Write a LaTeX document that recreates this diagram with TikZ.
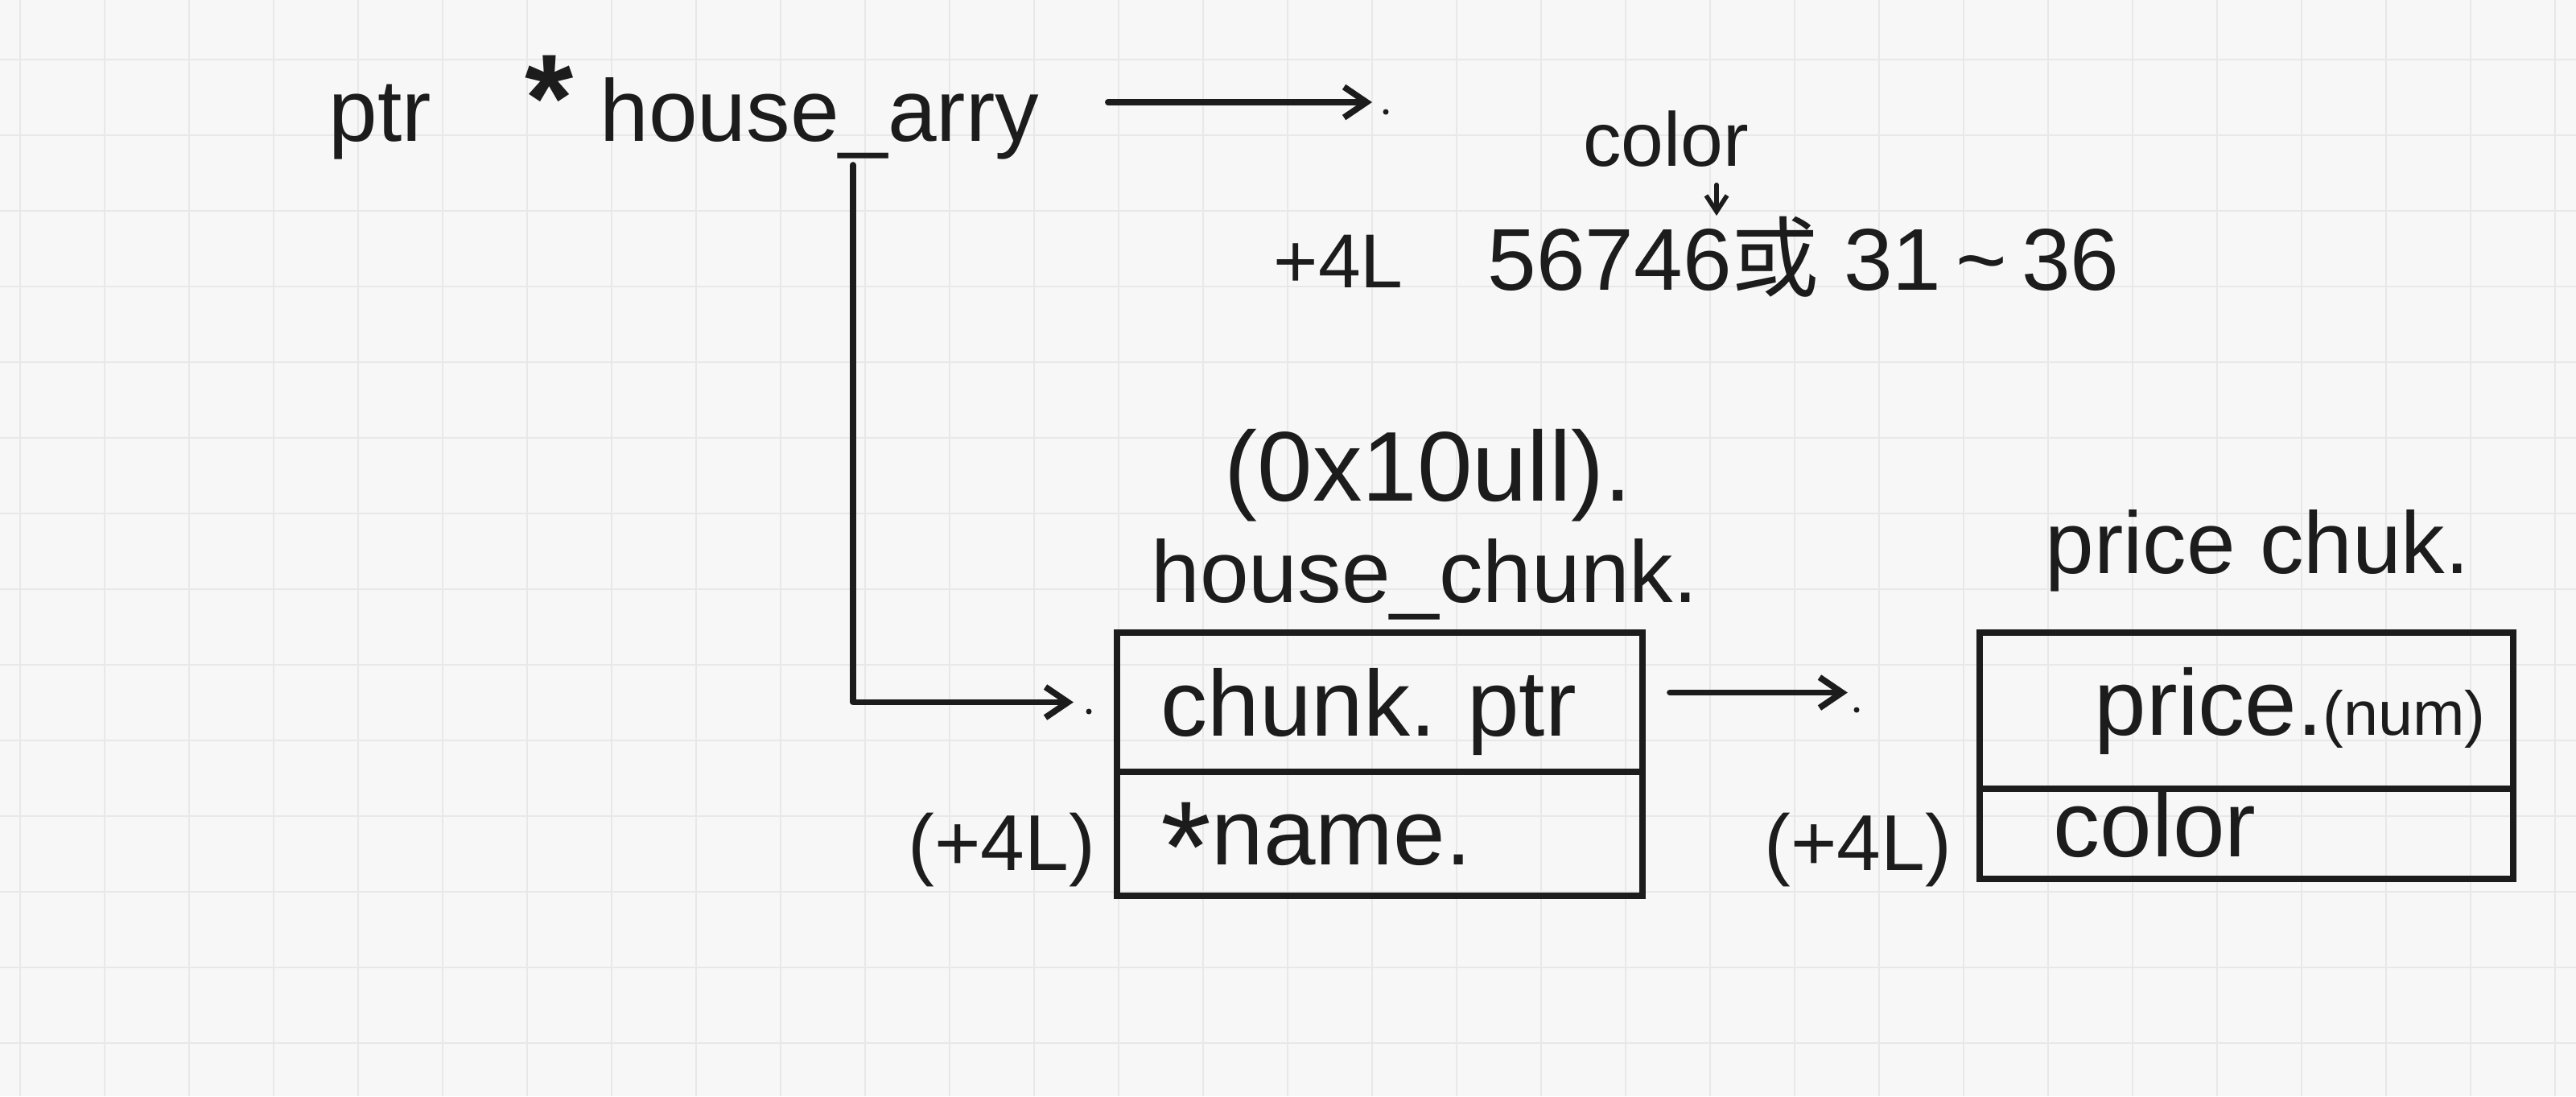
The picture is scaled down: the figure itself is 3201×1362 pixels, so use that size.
\documentclass[tikz,border=0pt]{standalone}
\usepackage{fontspec}
\setmainfont{Liberation Sans}
\newfontfamily\cjkfont{Noto Sans CJK SC}
\usetikzlibrary{arrows.meta}
\definecolor{paper}{HTML}{F7F7F7}
\definecolor{gridc}{HTML}{E8E8E8}
\definecolor{ink}{HTML}{1C1C1C}
\newcommand{\lowtext}[2]{\raisebox{-#1}[0pt][0pt]{#2}}
\begin{document}
\begin{tikzpicture}[x=0.01cm,y=-0.01cm,
  inkline/.style={draw=ink, line width=2.2pt, line cap=round, line join=round},
  txt/.style={text=ink, inner sep=0pt, font=\fontsize{31}{36}\selectfont},
  small/.style={text=ink, inner sep=0pt, font=\fontsize{27}{32}\selectfont},
  cell/.style={draw=ink, line width=2.2pt, text=ink, inner ysep=0pt, inner xsep=0.55cm, align=left, font=\fontsize{33}{38}\selectfont},
  arr/.style={inkline, -{Straight Barb[length=0.28cm,width=0.38cm,line width=2.2pt]}},
  arrsmall/.style={draw=ink, line width=1.6pt, line cap=round, -{Straight Barb[length=0.2cm,width=0.26cm,line width=1.6pt]}},
  dotmark/.style={circle, fill=ink, inner sep=0pt, minimum size=0.07cm},
  gridline/.style={draw=gridc, line width=0.8pt}
]
\fill[paper] (0,0) rectangle (3201,1362);
\useasboundingbox (0,0) rectangle (3201,1362);
\foreach \gx in {25,130,...,3201} \draw[gridline] (\gx,0) -- (\gx,1362);
\foreach \gy in {74,168,...,1362} \draw[gridline] (0,\gy) -- (3201,\gy);

% top line
\node[txt, anchor=base west] (ptr) at (408,175) {ptr};
\node[text=ink, inner sep=0pt, font=\fontsize{44}{48}\selectfont\bfseries] (scrib) at (683,122) {*};
\node[txt, anchor=base west] (ha) at (745,175) {house\_arry};
\coordinate (a1end) at (1705,127);
\draw[arr, shorten <=0.85cm] (ha.east |- a1end) -- (a1end);
\node[dotmark] (d1) at (1722,139) {};

% color note
\node[small, anchor=base] (colorlbl) at (2070,206) {color};
\coordinate (cdown) at (2133,268);
\draw[arrsmall, shorten <=0.22cm] (colorlbl.south -| cdown) -- (cdown);
\node[small, anchor=base west] (p4l) at (1582,357) {+4L};
\node[txt, anchor=base west] (nums) at (1848,360) {56746{\cjkfont 或} 31\,\textasciitilde\,36};

% house chunk
\node[txt, anchor=base west, font=\fontsize{35}{40}\selectfont] (addr) at (1521,622) {(0x10ull).};
\node[txt, anchor=base west] (hclbl) at (1430,748) {house\_chunk.};
\node[cell, minimum width=6.53cm, minimum height=1.73cm, text width=5.43cm] (hcptr) at (1714.5,872.5) {\lowtext{0.42cm}{chunk.\ ptr}};
\node[cell, minimum width=6.53cm, minimum height=1.54cm, text width=5.43cm] (hcname) at (1714.5,1036) {\lowtext{0.38cm}{\raisebox{-0.3em}{\fontsize{46}{46}\selectfont *}name.}};
\node[small, anchor=east, font=\fontsize{28}{32}\selectfont] (off1) at ([xshift=-0.22cm,yshift=-0.2cm]hcname.west) {(+4L)};

% arrow from house_arry to house chunk
\coordinate (vtop) at (1060,205);
\draw[arr, shorten >=0.5cm] (vtop) |- (hcptr.west);
\node[dotmark] (d2) at (1353,884) {};

% price chunk
\node[txt, anchor=base west] (pclbl) at (2541,712) {price chuk.};
\node[cell, minimum width=6.63cm, minimum height=1.94cm, text width=5.53cm] (pcprice) at (2791.5,883) {\lowtext{0.3cm}{\hspace*{0.88cm}price.{\fontsize{22}{26}\selectfont (num)}}};
\node[cell, minimum width=6.63cm, minimum height=1.12cm, text width=5.53cm] (pccolor) at (2791.5,1036) {\lowtext{0.28cm}{\hspace*{0.37cm}color}};
\node[small, anchor=east, font=\fontsize{28}{32}\selectfont] (off2) at ([xshift=-0.3cm,yshift=-0.2cm]pccolor.west) {(+4L)};

% arrow house chunk -> price chunk
\draw[arr, shorten <=0.3cm, shorten >=1.6cm] ([yshift=0.12cm]hcptr.east) -- ([yshift=0.12cm]hcptr.east -| pcprice.west);
\node[dotmark] (d3) at (2307,882) {};
\end{tikzpicture}
\end{document}
